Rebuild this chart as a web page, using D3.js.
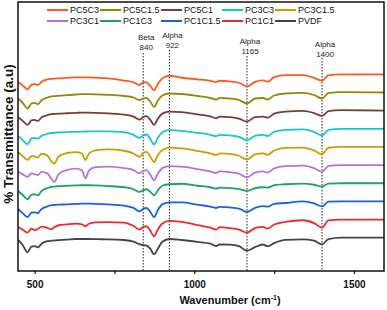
<!DOCTYPE html>
<html>
<head>
<meta charset="utf-8">
<script src="https://cdn.jsdelivr.net/npm/d3@7/dist/d3.min.js"></script>
<style>
  body { margin: 0; background: #fff; }
  text { font-family: Arial, "Liberation Sans", sans-serif; }
</style>
</head>
<body>
<div id="chart"></div>
<script>
// wavenumber grid (cm-1) shared by all spectra
const wavenumbers = [448, 462, 478, 490, 500, 510, 522, 540, 553, 562,
    575, 600, 630, 648, 659, 670, 690, 730, 780, 810,
    828, 840, 850, 862, 874, 886, 900, 922, 960, 1010,
    1050, 1068, 1080, 1110, 1140, 1165, 1190, 1215, 1230, 1250,
    1285, 1340, 1375, 1400, 1420, 1460, 1594];

// % transmittance (a.u.), before stacking
const pc5c3 = [92.6, 89, 85, 89.5, 90.3, 89.3, 92.6, 95, 95.5, 95.8, 96, 96.5, 97, 97, 97, 97, 96.7, 96, 93.8, 92,
    89.3, 92.2, 92, 88.5, 84.3, 90.5, 96, 98.6, 96.6, 95, 93.5, 92.4, 93.6, 93, 91.6, 88, 92.5, 94, 92.6, 97.2,
    99.3, 99.3, 96.5, 93.6, 99, 100, 100];
const pc5c15 = [94, 90, 84, 89, 89.6, 88.3, 92.3, 95, 96.1, 96.3, 96.7, 97.3, 98, 98.3, 98.3, 98.3, 98.2, 97.7, 96.5, 95,
    92.5, 94, 94.5, 91, 85.6, 92, 97, 99, 98.5, 96.5, 94.5, 93, 94.7, 94, 92.5, 89, 94, 94.5, 93, 97,
    99, 99.6, 97.5, 94, 99.4, 100.4, 100];
const pc5c1 = [93.4, 90, 85.7, 90.2, 90.7, 89.7, 93.4, 95.5, 96.5, 96.7, 97, 97.4, 97.8, 98, 98, 98, 97.8, 97.2, 96, 94,
    91, 93.5, 94.5, 91, 85.7, 92, 97, 99, 98.5, 96.2, 94.2, 92.4, 94, 93.5, 92, 89, 93.5, 94, 93, 97,
    99, 99.7, 97.5, 94.7, 99.5, 100.5, 100];
const pc3c3 = [93, 89, 84.5, 90.5, 91, 90, 93, 95, 95.8, 96, 96.3, 96.6, 97, 97.2, 97.3, 97.4, 97.5, 97.5, 96.6, 94,
    91, 93.5, 94.3, 90, 84.3, 91, 96.5, 98.6, 98, 96, 94, 92.6, 94, 93.4, 92, 88.6, 93, 94, 92.8, 97,
    99, 99.4, 97, 93.3, 99, 100, 100];
const pc3c15 = [95, 91, 87, 90.7, 90.5, 89.4, 93.4, 91.5, 85.5, 83.4, 90.5, 93.7, 94.8, 93.5, 87, 93.4, 96.5, 97.5, 96.2, 93.5,
    90, 94, 95, 90.5, 85, 92, 97, 99.4, 98.5, 96, 93.5, 92, 93.5, 93, 91.2, 87.4, 92.5, 93.5, 92.2, 96.5,
    99, 99.4, 96.5, 92.7, 99.2, 100, 100];
const pc3c1 = [93.3, 91, 88.3, 91.7, 91, 90, 93.3, 91.7, 86, 83.3, 91, 95, 96.5, 95, 86.7, 94.5, 98, 98.5, 97, 95,
    91.7, 94, 95, 90.5, 85, 91.5, 97, 99, 98.5, 96, 93.7, 92.2, 93.7, 93, 91.5, 87.7, 92.5, 93.7, 92.5, 96.7,
    99, 99.5, 97, 93.3, 99.3, 100, 100];
const pc1c3 = [92.3, 88.5, 84, 88.5, 89, 88, 92.3, 95.2, 96.5, 96.7, 97, 97.4, 97.8, 98, 98, 98, 97.8, 97.2, 96, 94,
    91.3, 93, 94, 91.5, 88, 93, 97.5, 99, 99.5, 97.5, 96, 94.7, 95.7, 95.2, 94.2, 92.3, 95, 96, 95.7, 98,
    99, 99.7, 98.5, 96.7, 99.7, 100, 100];
const pc1c15 = [92.4, 88.5, 84.4, 88.7, 89, 88.4, 92.4, 95, 96.2, 96.4, 96.7, 97, 97.5, 97.7, 97.7, 97.7, 97.6, 97, 95.8, 93.5,
    90, 92.5, 93.4, 89.5, 84.4, 91.5, 97, 99, 99, 96.7, 94.8, 93.4, 94.5, 94, 92.7, 89.4, 93.5, 95.2, 94.8, 97.5,
    98.4, 100, 98, 95, 99.7, 100, 100];
const pc1c1 = [92.6, 90, 87, 91, 89.3, 90.5, 93, 91.6, 90.3, 92.5, 94.3, 95.2, 96, 95.3, 93.3, 95.8, 97.2, 97.5, 97, 93.5,
    90, 92.5, 93.3, 89, 83.3, 90, 96, 98.6, 97.6, 94.5, 92, 90, 92.4, 91.5, 90, 87, 91.5, 92.6, 91, 95,
    97.6, 99.3, 96.5, 92, 99.2, 100, 100];
const pvdf = [97.7, 93, 85.4, 91, 91.5, 90.4, 94, 96.5, 97, 97.2, 97.5, 98, 98.7, 98.7, 98.7, 98.7, 98.5, 98.4, 97.7, 96,
    93.5, 92.5, 92.2, 89, 83.4, 89, 96, 98.7, 97.7, 95.8, 94, 91.7, 93.2, 93, 91.5, 87, 90.5, 93.2, 91.5, 94.6,
    97.8, 98.4, 97, 93.4, 98.5, 100, 100];

// series, top to bottom
const seriesNames = ["PC5C3", "PC5C1.5", "PC5C1", "PC3C3", "PC3C1.5",
    "PC3C1", "PC1C3", "PC1C1.5", "PC1C1", "PVDF"];
const seriesValues = [pc5c3, pc5c15, pc5c1, pc3c3, pc3c15, pc3c1, pc1c3, pc1c15, pc1c1, pvdf];
const seriesColors = ["#ff5a1e", "#8c8c0a", "#7a3c3c", "#14c8d2", "#d09c00",
    "#b073e0", "#1fa263", "#1763e3", "#f02a2a", "#444444"];
const stackStep = 18.15; // vertical shift between spectra (a.u.)

const peakMarks = [840, 922, 1165, 1400];
const peakPhases = ["Beta", "Alpha", "Alpha", "Alpha"];
const xTicks = [500, 750, 1000, 1250, 1500];
const xTickLabels = ["500", "", "1000", "", "1500"];

const width = 387, height = 310;
const margin = {top: 2, right: 3, bottom: 39, left: 18};

const svg = d3.select('#chart')
    .append('svg')
    .attr('width', width)
    .attr('height', height);

const x = d3.scaleLinear()
    .domain([448, 1594])
    .range([margin.left, width - margin.right]);

const y = d3.scaleLinear()
    .domain([66.7, 335.7])
    .range([height - margin.bottom, margin.top]);

svg.append('clipPath').attr('id', 'clip')
    .append('rect')
    .attr('x', margin.left).attr('y', margin.top)
    .attr('width', width - margin.left - margin.right)
    .attr('height', height - margin.top - margin.bottom);

// dotted peak markers
const labelTop = [39.5, 37.5, 43.5, 46.5];
const markTop = [53, 50, 56, 58];
peakMarks.forEach(function(w, i) {
    svg.append('line')
        .attr('x1', x(w)).attr('x2', x(w))
        .attr('y1', markTop[i]).attr('y2', height - margin.bottom)
        .attr('stroke', '#222')
        .attr('stroke-width', 1)
        .attr('stroke-dasharray', '1.5,1.5');
    var t = svg.append('text')
        .attr('x', x(w) + 3)
        .attr('y', labelTop[i])
        .attr('text-anchor', 'middle')
        .attr('font-size', 8)
        .attr('fill', '#222');
    t.append('tspan').text(peakPhases[i]);
    t.append('tspan').attr('x', x(w) + 3).attr('dy', 10).text(w);
});

// spectra
const line = d3.line()
    .x(function(d) { return x(d[0]) })
    .y(function(d) { return y(d[1]) })
    .curve(d3.curveMonotoneX);

const n = seriesNames.length;
svg.append('g').attr('clip-path', 'url(#clip)')
    .selectAll('path')
    .data(seriesValues)
    .enter().append('path')
    .attr('fill', 'none')
    .attr('stroke', function(d, i) { return seriesColors[i] })
    .attr('stroke-width', 1.8)
    .attr('stroke-linejoin', 'round')
    .attr('d', function(vals, i) {
        var shift = (n - 1 - i) * stackStep;
        return line(vals.map(function(v, j) { return [wavenumbers[j], v + shift] }));
    });

// frame
svg.append('rect')
    .attr('x', margin.left).attr('y', margin.top)
    .attr('width', width - margin.left - margin.right)
    .attr('height', height - margin.top - margin.bottom)
    .attr('fill', 'none')
    .attr('stroke', '#111')
    .attr('stroke-width', 1.5);

// x axis
const xAxis = svg.append('g')
    .attr('transform', 'translate(0,' + (height - margin.bottom) + ')')
    .call(d3.axisBottom(x)
        .tickValues(xTicks)
        .tickSize(3)
        .tickFormat(function(d, i) { return xTickLabels[i] }));
xAxis.select('.domain').remove();
xAxis.selectAll('line').attr('stroke', '#111').attr('stroke-width', 1.2);
xAxis.selectAll('text')
    .attr('font-size', 10)
    .attr('font-weight', 'bold')
    .attr('font-family', 'Arial, "Liberation Sans", sans-serif')
    .attr('fill', '#111')
    .attr('dy', '1.1em');

// axis titles
const xTitle = svg.append('text')
    .attr('x', 230)
    .attr('y', 304)
    .attr('text-anchor', 'middle')
    .attr('font-size', 11)
    .attr('font-weight', 'bold')
    .attr('fill', '#111');
xTitle.append('tspan').text('Wavenumber (cm');
xTitle.append('tspan').attr('font-size', 7).attr('dy', -4).text('-1');
xTitle.append('tspan').attr('dy', 4).text(')');

svg.append('text')
    .attr('transform', 'translate(13,134) rotate(-90)')
    .attr('text-anchor', 'middle')
    .attr('font-size', 13.5)
    .attr('font-weight', 'bold')
    .attr('fill', '#111')
    .text('% Transmittance (a.u)');

// legend: 2 rows x 5 columns
const cols = 5;
const colX = [47, 100, 161, 222, 275];
const legendY = [10, 21];
const items = svg.append('g').selectAll('g')
    .data(seriesNames)
    .enter().append('g')
    .attr('transform', function(d, i) {
        return 'translate(' + colX[i % cols] + ',' + legendY[Math.floor(i / cols)] + ')';
    });
items.append('line')
    .attr('x1', 0).attr('x2', 21)
    .attr('stroke', function(d, i) { return seriesColors[i] })
    .attr('stroke-width', 2);
items.append('text')
    .attr('x', 23)
    .attr('dy', '0.35em')
    .attr('font-size', 9)
    .attr('fill', '#111')
    .text(function(d) { return d });
</script>
</body>
</html>
